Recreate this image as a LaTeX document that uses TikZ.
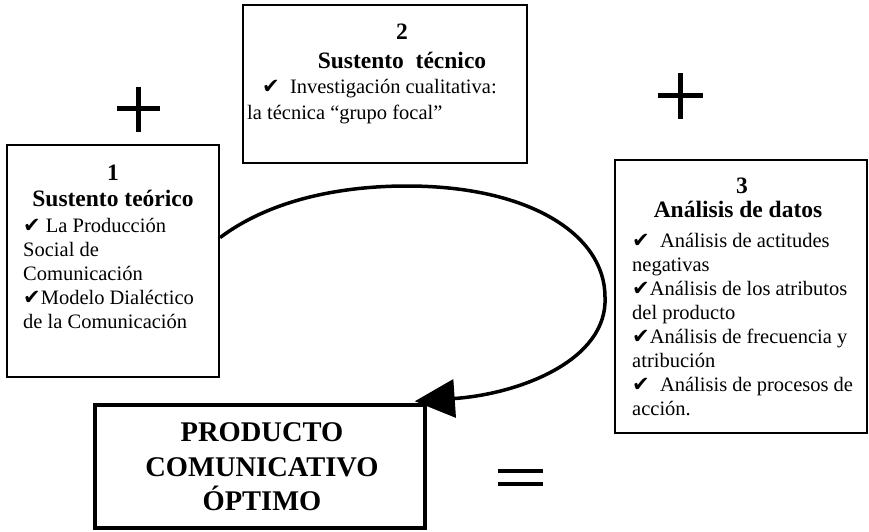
\documentclass[tikz,border=0pt]{standalone}
\usepackage{fontspec}
\setmainfont{Liberation Serif}
\newfontfamily\symf{DejaVu Sans}
\usetikzlibrary{arrows.meta,calc}
\newcommand{\ck}{{\symf\fontsize{21}{21}\selectfont ✔}}
\begin{document}
\begin{tikzpicture}[x=1pt,y=-1pt,
  box/.style={draw, line width=2.2pt, inner sep=0pt},
  pbox/.style={draw, line width=3.5pt, inner sep=0pt},
  txt/.style={font=\fontsize{20.5}{24}\selectfont, inner sep=0pt, anchor=base west},
  ttl/.style={font=\bfseries\fontsize{23.5}{26}\selectfont, inner sep=0pt, anchor=base},
  big/.style={font=\bfseries\fontsize{28.5}{34}\selectfont, inner sep=0pt, anchor=base},
  sign/.style={line width=5pt}]
\useasboundingbox (0,0) rectangle (869,532);
\fill[white] (0,0) rectangle (869,532);

% boxes
\node[box, minimum width=212pt, minimum height=232pt] (b1) at (113,261) {};
\node[box, minimum width=284pt, minimum height=158pt] (b2) at (385,84) {};
\node[box, minimum width=252pt, minimum height=273pt] (b3) at (741,296.5) {};
\node[pbox, minimum width=330pt, minimum height=123pt] (p) at (260,466.5) {};

% box 1 text
\node[ttl] (n1) at (113,180) {1};
\node[ttl] (h1) at (113,206) {Sustento teórico};
\node[txt] (t1a) at (23,232) {\ck\ La Producción};
\node[txt] (t1b) at (23,256) {Social de};
\node[txt] (t1c) at (23,280) {Comunicación};
\node[txt] (t1d) at (23,304) {\ck Modelo Dialéctico};
\node[txt] (t1e) at (23,328) {de la Comunicación};

% box 2 text
\node[ttl] (n2) at (402,40) {2};
\node[ttl] (h2) at (402,69) {Sustento\ \ técnico};
\node[txt] (t2a) at (262,94) {\ck\ \ Investigación cualitativa:};
\node[txt] (t2b) at (247,119) {la técnica “grupo focal”};

% box 3 text
\node[ttl] (n3) at (742,193) {3};
\node[ttl] (h3) at (738,217) {Análisis de datos};
\node[txt] (t3a) at (632,247) {\ck\ \ Análisis de actitudes};
\node[txt] (t3b) at (632,271) {negativas};
\node[txt] (t3c) at (632,295) {\ck Análisis de los atributos};
\node[txt] (t3d) at (632,319) {del producto};
\node[txt] (t3e) at (632,343) {\ck Análisis de frecuencia y};
\node[txt] (t3f) at (632,367) {atribución};
\node[txt] (t3g) at (632,391) {\ck\ \ Análisis de procesos de};
\node[txt] (t3h) at (632,415) {acción.};

% product box text
\node[big] (p1) at (262,441) {PRODUCTO};
\node[big] (p2) at (262,476) {COMUNICATIVO};
\node[big] (p3) at (262,510) {ÓPTIMO};

% plus and equals signs
\draw[sign] (117,109) -- (160,109);
\draw[sign] (138,87) -- (138,132);
\draw[sign] (658,96) -- (703,96);
\draw[sign] (680,73) -- (680,119);
\draw[line width=4pt] (498,471) -- (543,471);
\draw[line width=4pt] (498,484) -- (543,484);

% loop arrow
\draw[line width=3.5pt, -{Triangle[length=40pt,width=38pt]}]
  ($(b1.north east)!0.4!(b1.south east)$)
  .. controls (270,200) and (340,186) .. (407,186)
  .. controls (530,186) and (605,235) .. (605,297)
  .. controls (608,360) and (520,394) .. ([xshift=-12pt,yshift=2pt]p.north east);
\end{tikzpicture}
\end{document}
